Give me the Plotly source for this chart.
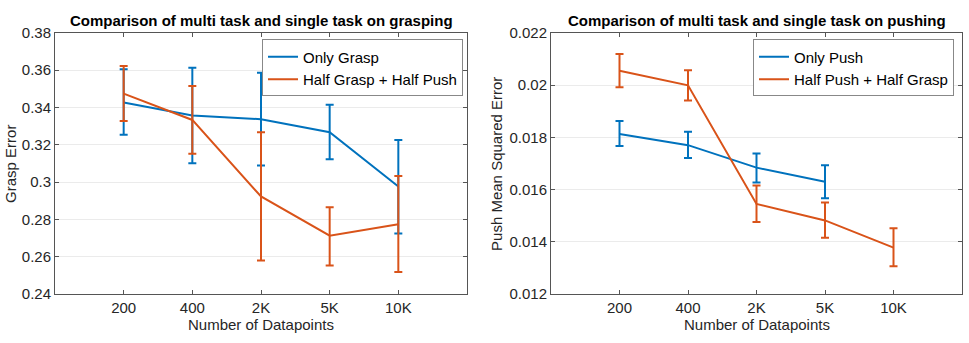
import plotly.graph_objects as go

categories = ["200", "400", "2K", "5K", "10K"]

# Left: grasp error
only_grasp = [0.3427, 0.3357, 0.3337, 0.3267, 0.2977]
only_grasp_up = [0.0178, 0.0255, 0.0249, 0.0148, 0.0248]
only_grasp_dn = [0.0173, 0.0256, 0.0248, 0.0144, 0.0252]
half_grasp = [0.3474, 0.3333, 0.2923, 0.2713, 0.2774]
half_grasp_up = [0.0148, 0.0182, 0.0344, 0.0152, 0.0259]
half_grasp_dn = [0.0147, 0.0181, 0.0343, 0.0160, 0.0256]

# Right: push mean squared error
only_push = [0.01813, 0.01770, 0.01684, 0.01630]
only_push_up = [0.00049, 0.00051, 0.00054, 0.00063]
only_push_dn = [0.00046, 0.00049, 0.00057, 0.00063]
half_push = [0.02055, 0.01999, 0.01545, 0.01482, 0.01378]
half_push_up = [0.00064, 0.00058, 0.00071, 0.00069, 0.00074]
half_push_dn = [0.00063, 0.00058, 0.00069, 0.00066, 0.00071]

BLUE = "#0072BD"
ORANGE = "#D95319"
AX = "#262626"
LINE = "#555555"
FONT = "Liberation Sans, Arial, Helvetica, sans-serif"
W, H = 969, 343

fig = go.Figure()

def add(x, y, up, dn, color, name, xa, ya, leg):
    fig.add_trace(go.Scatter(
        x=x, y=y, name=name, mode="lines",
        line=dict(color=color, width=2),
        error_y=dict(type="data", symmetric=False, array=up, arrayminus=dn,
                     color=color, thickness=2, width=4),
        xaxis=xa, yaxis=ya, legend=leg,
    ))

add(categories, only_grasp, only_grasp_up, only_grasp_dn, BLUE, "Only Grasp", "x", "y", "legend")
add(categories, half_grasp, half_grasp_up, half_grasp_dn, ORANGE, "Half Grasp + Half Push", "x", "y", "legend")
add(categories[:4], only_push, only_push_up, only_push_dn, BLUE, "Only Push", "x2", "y2", "legend2")
add(categories, half_push, half_push_up, half_push_dn, ORANGE, "Half Push + Half Grasp", "x2", "y2", "legend2")

ydom = [1 - 300 / H, 1 - 25 / H]
axis_common = dict(
    showline=True, linecolor=LINE, linewidth=1, mirror="ticks",
    ticks="inside", ticklen=4, tickcolor=LINE, tickwidth=1,
    tickfont=dict(family=FONT, size=15, color=AX),
    zeroline=False,
)

fig.update_layout(
    width=W, height=H,
    margin=dict(l=0, r=0, t=0, b=0),
    paper_bgcolor="white", plot_bgcolor="white",
    font=dict(family=FONT, size=15, color=AX),
    xaxis=dict(domain=[55 / W, 467 / W], type="category", range=[-1, 5],
               categoryorder="array", categoryarray=categories,
               showgrid=False, anchor="y", **axis_common),
    yaxis=dict(domain=ydom, range=[0.24, 0.38], dtick=0.02, anchor="x",
               showgrid=True, gridcolor="#EBEBEB", gridwidth=1, **axis_common),
    xaxis2=dict(domain=[551 / W, 962 / W], type="category", range=[-1, 5],
                categoryorder="array", categoryarray=categories,
                showgrid=False, anchor="y2", **axis_common),
    yaxis2=dict(domain=ydom, range=[0.012, 0.022], dtick=0.002, anchor="x2",
                showgrid=True, gridcolor="#EBEBEB", gridwidth=1, **axis_common),
    legend=dict(x=463 / W, y=1 - 32 / H, xanchor="right", yanchor="top",
                bordercolor="#888888", borderwidth=1, bgcolor="white",
                font=dict(family=FONT, size=15, color="black"),
                itemwidth=30, tracegroupgap=0),
    legend2=dict(x=954 / W, y=1 - 32 / H, xanchor="right", yanchor="top",
                 bordercolor="#888888", borderwidth=1, bgcolor="white",
                 font=dict(family=FONT, size=15, color="black"),
                 itemwidth=30, tracegroupgap=0),
    showlegend=True,
)

ann = [
    dict(text="<b>Comparison of multi task and single task on grasping</b>",
         x=261 / W, y=1 - 12 / H, font=dict(size=15, color="black")),
    dict(text="<b>Comparison of multi task and single task on pushing</b>",
         x=757 / W, y=1 - 12 / H, font=dict(size=15, color="black")),
    dict(text="Number of Datapoints", x=261 / W, y=1 - 332 / H),
    dict(text="Number of Datapoints", x=757 / W, y=1 - 332 / H),
    dict(text="Grasp Error", x=11 / W, y=1 - 163 / H, textangle=-90),
    dict(text="Push Mean Squared Error", x=497 / W, y=1 - 163 / H, textangle=-90),
]
for a in ann:
    fig.add_annotation(xref="paper", yref="paper", showarrow=False,
                       xanchor="center", yanchor="middle",
                       font=a.pop("font", dict(size=15, color=AX)), **a)

fig.write_html("out.html", config={"displayModeBar": False},
               post_script="document.body.style.margin='0px';document.body.style.overflow='hidden';")
